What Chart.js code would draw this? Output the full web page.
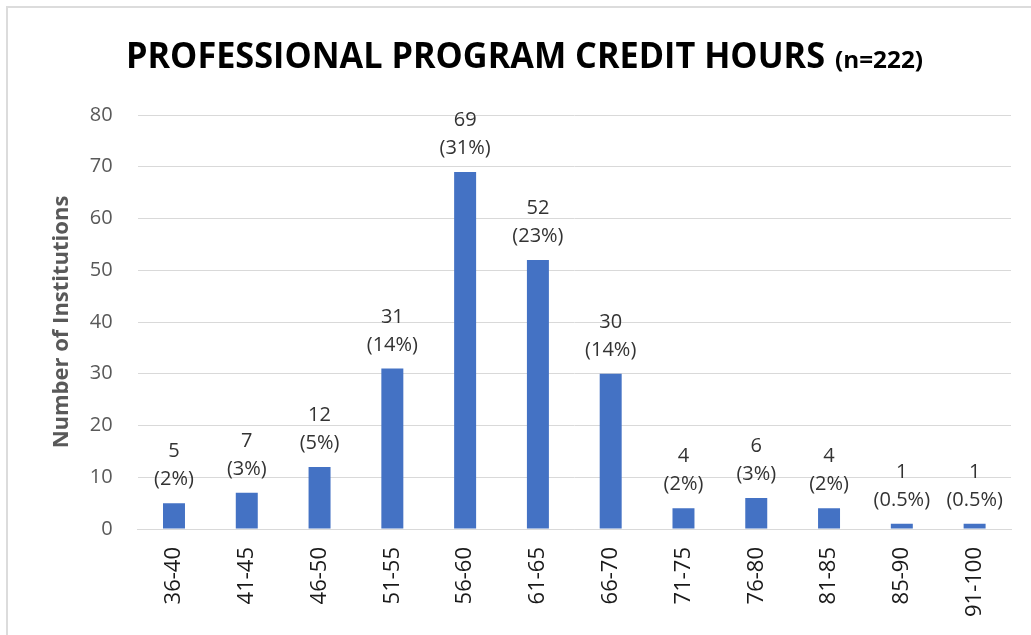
<!DOCTYPE html>
<html><head><meta charset="utf-8">
<script src="https://cdn.jsdelivr.net/npm/chart.js@4.4.0/dist/chart.umd.min.js"></script>
<style>
html,body{margin:0;padding:0;background:#fff;}
#wrap{position:relative;width:1031px;height:635px;overflow:hidden;}
#frame{position:absolute;left:6px;top:6px;width:1030px;height:640px;border-left:2px solid #dcdcdc;border-top:2px solid #dcdcdc;}
canvas{position:absolute;left:0;top:0;}
</style></head><body>
<div id="wrap"><div id="frame"></div><canvas id="c" width="1031" height="635"></canvas></div>
<script>
const categories = ['36-40','41-45','46-50','51-55','56-60','61-65','66-70','71-75','76-80','81-85','85-90','91-100'];
const counts = [5,7,12,31,69,52,30,4,6,4,1,1];
const percents = ['(2%)','(3%)','(5%)','(14%)','(31%)','(23%)','(14%)','(2%)','(3%)','(2%)','(0.5%)','(0.5%)'];
const yTicks = [0,10,20,30,40,50,60,70,80];
const titleMain = 'PROFESSIONAL PROGRAM CREDIT HOURS';
const titleSub = '(n=222)';
const yTitle = 'Number of Institutions';

const FONT = '"Open Sans", "Liberation Sans", sans-serif';

const titlePlugin = {
  id: 'titlePlugin',
  afterDraw(chart) {
    const ctx = chart.ctx;
    ctx.save();
    ctx.fillStyle = '#000000';
    ctx.textBaseline = 'alphabetic';
    ctx.textAlign = 'left';
    ctx.font = 'bold 35px ' + FONT;
    let w = ctx.measureText(titleMain).width;
    ctx.save();
    ctx.translate(126, 68);
    ctx.scale(699 / w, 1);
    ctx.fillText(titleMain, 0, 0);
    ctx.restore();
    ctx.font = 'bold 23px ' + FONT;
    w = ctx.measureText(titleSub).width;
    ctx.save();
    ctx.translate(835, 68);
    ctx.scale(88 / w, 1);
    ctx.fillText(titleSub, 0, 0);
    ctx.restore();
    ctx.restore();
  }
};

const labelPlugin = {
  id: 'labelPlugin',
  afterDatasetsDraw(chart) {
    const ctx = chart.ctx;
    const meta = chart.getDatasetMeta(0);
    ctx.save();
    ctx.fillStyle = '#333333';
    ctx.font = '20px ' + FONT;
    ctx.textAlign = 'center';
    ctx.textBaseline = 'alphabetic';
    meta.data.forEach((el, i) => {
      ctx.fillText(String(counts[i]), el.x, el.y - 46);
      ctx.fillText(percents[i], el.x, el.y - 18);
    });
    ctx.restore();
  }
};

new Chart(document.getElementById('c'), {
  type: 'bar',
  data: {
    labels: categories,
    datasets: [{
      data: counts,
      backgroundColor: '#4472C4',
      borderWidth: 0,
      barPercentage: 1,
      categoryPercentage: 0.302
    }]
  },
  options: {
    responsive: false,
    devicePixelRatio: 1,
    animation: false,
    layout: { padding: { top: 115, right: 20, bottom: 0, left: 0 } },
    plugins: { legend: { display: false }, tooltip: { enabled: false }, title: { display: false } },
    scales: {
      x: {
        grid: { display: false, drawTicks: false },
        border: { display: true, color: '#d9d9d9', width: 1 },
        ticks: {
          autoSkip: false, maxRotation: 90, minRotation: 90, padding: 18,
          color: '#1a1a1a', font: { family: FONT, size: 22 }
        },
        afterFit(scale) { scale.height = 106; }
      },
      y: {
        min: 0, max: 80,
        afterBuildTicks(scale) { scale.ticks = yTicks.map(v => ({ value: v })); },
        grid: { color: '#d9d9d9', lineWidth: 1, drawTicks: false },
        border: { display: false },
        ticks: { padding: 25, color: '#595959', font: { family: FONT, size: 20 } },
        title: {
          display: true, text: yTitle, color: '#595959',
          font: { family: FONT, size: 22, weight: 'bold' },
          padding: { top: 49, bottom: 0 }
        },
        afterFit(scale) { scale.width = 137.6; }
      }
    }
  },
  plugins: [titlePlugin, labelPlugin]
});
</script>
</body></html>
